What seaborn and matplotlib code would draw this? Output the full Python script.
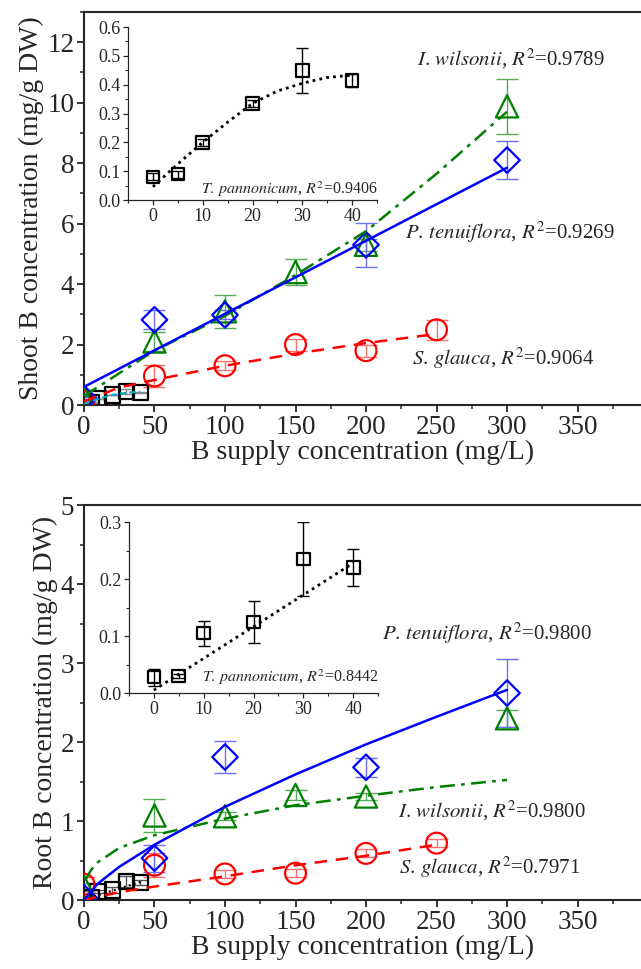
import numpy as np
import pandas as pd
import seaborn as sns
import matplotlib
matplotlib.use("Agg")
import matplotlib.pyplot as plt
from matplotlib.ticker import MultipleLocator, FormatStrFormatter

# ---- data ----
# shoot B (mg/g DW)
sg_x = [0, 50, 100, 150, 200, 250]
sg_shoot = [0.12, 0.96, 1.30, 2.00, 1.80, 2.49]
sg_shoot_err = [0.05, 0.36, 0.15, 0.20, 0.20, 0.33]
pt_x = [0, 50, 100, 200, 300]
pt_shoot = [0.22, 2.82, 2.98, 5.30, 8.10]
pt_shoot_err = [0.05, 0.32, 0.15, 0.72, 0.63]
iw_x = [0, 50, 100, 150, 200, 300]
iw_shoot = [0.25, 2.10, 3.10, 4.40, 5.30, 9.88]
iw_shoot_err = [0.05, 0.30, 0.55, 0.42, 0.20, 0.90]
tp_x = [0, 5, 10, 20, 30, 40]
tp_shoot = [0.08, 0.09, 0.20, 0.335, 0.45, 0.415]
tp_shoot_err = [0.012, 0.012, 0.012, 0.012, 0.078, 0.022]

# fitted curves, shoot
sg_shoot_fit_x = [0, 25, 50, 100, 150, 200, 250]
sg_shoot_fit = [0.12, 0.58, 0.83, 1.30, 1.70, 2.05, 2.35]
pt_shoot_fit_x = [0, 300]
pt_shoot_fit = [0.60, 7.85]
iw_shoot_fit_x = [0, 50, 100, 150, 200, 250, 300]
iw_shoot_fit = [0.30, 1.80, 2.95, 4.30, 5.75, 7.65, 9.70]
tp_shoot_fit_x = [0, 5, 10, 15, 20, 25, 30, 35, 40]
tp_shoot_fit = [0.046, 0.125, 0.200, 0.270, 0.335, 0.378, 0.405, 0.425, 0.433]

# root B (mg/g DW)
sg_root = [0.20, 0.44, 0.33, 0.34, 0.59, 0.72]
sg_root_err = [0.09, 0.15, 0.05, 0.05, 0.05, 0.05]
pt_root = [0.03, 0.53, 1.81, 1.68, 2.62]
pt_root_err = [0.02, 0.17, 0.20, 0.12, 0.43]
iw_root = [0.17, 1.07, 1.06, 1.33, 1.31, 2.30]
iw_root_err = [0.05, 0.21, 0.05, 0.06, 0.05, 0.11]
tp_root = [0.028, 0.030, 0.105, 0.125, 0.235, 0.220]
tp_root_err = [0.015, 0.004, 0.022, 0.037, 0.065, 0.033]

# fitted curves, root
sg_root_fit_x = [0, 25, 50, 100, 150, 200, 250]
sg_root_fit = [0.0, 0.10, 0.17, 0.30, 0.44, 0.56, 0.70]
pt_root_fit_x = [0, 10, 25, 50, 100, 150, 200, 250, 300]
pt_root_fit = [0.0, 0.21, 0.42, 0.70, 1.18, 1.59, 1.97, 2.32, 2.66]
iw_root_fit_x = [1, 5, 10, 25, 50, 100, 150, 200, 250, 300]
iw_root_fit = [0.25, 0.38, 0.48, 0.66, 0.82, 1.03, 1.20, 1.32, 1.43, 1.52]
tp_root_fit_x = [0, 40]
tp_root_fit = [0.005, 0.228]

shoot_labels = [r"$\mathit{I.\,wilsonii}$, $\mathit{R}^{2}$=0.9789",
                r"$\mathit{P.\,tenuiflora}$, $\mathit{R}^{2}$=0.9269",
                r"$\mathit{S.\,glauca}$, $\mathit{R}^{2}$=0.9064",
                r"$\mathit{T.\,pannonicum}$, $\mathit{R}^{2}$=0.9406"]
root_labels = [r"$\mathit{P.\,tenuiflora}$, $\mathit{R}^{2}$=0.9800",
               r"$\mathit{I.\,wilsonii}$, $\mathit{R}^{2}$=0.9800",
               r"$\mathit{S.\,glauca}$, $\mathit{R}^{2}$=0.7971",
               r"$\mathit{T.\,pannonicum}$, $\mathit{R}^{2}$=0.8442"]

sns.set_style("ticks")
plt.rcParams["font.family"] = ["Liberation Serif", "DejaVu Serif"]
plt.rcParams["mathtext.fontset"] = "stix"

BLUE, GREEN, RED = "#0000ff", "#007f00", "#ff0000"
BLUE_E, GREEN_E, RED_E = "#6f6fff", "#55aa55", "#ff6f6f"


def series(ax, x, y, err, color, ecolor, marker, ms, lw_err=1.0, cap=8):
    ax.errorbar(x, y, yerr=err, fmt="none", ecolor=ecolor, elinewidth=lw_err,
                capsize=cap, capthick=lw_err, zorder=2)
    sns.scatterplot(x=x, y=y, ax=ax, marker=marker, s=ms ** 2, facecolors="none",
                    edgecolor=color, linewidth=1.6, zorder=3, legend=False)


def fit(ax, x, y, color, ls, lw=1.8):
    df = pd.DataFrame({"x": x, "y": y})
    sns.lineplot(data=df, x="x", y="y", ax=ax, color=color, linestyle=ls, lw=lw,
                 zorder=4, sort=False)


def style_main(ax, ymax, ymajor, yminor, ylabel):
    ax.set_xlim(0, 395)
    ax.set_ylim(0, ymax)
    ax.xaxis.set_major_locator(MultipleLocator(50))
    ax.xaxis.set_minor_locator(MultipleLocator(25))
    ax.yaxis.set_major_locator(MultipleLocator(ymajor))
    ax.yaxis.set_minor_locator(MultipleLocator(yminor))
    ax.tick_params(which="major", direction="out", length=5, width=1.3, labelsize=19.5,
                   top=False, right=False, pad=2)
    ax.tick_params(which="minor", direction="out", length=3, width=1.1, top=False, right=False)
    for s in ["left", "bottom", "top"]:
        ax.spines[s].set_linewidth(1.5)
    ax.spines["right"].set_visible(False)
    ax.set_xlabel("B supply concentration (mg/L)", fontsize=20, labelpad=0)
    ax.set_ylabel(ylabel, fontsize=20, labelpad=2)


def style_inset(ax, ymax):
    ax.set_xlim(-5, 45)
    ax.set_ylim(0, ymax)
    ax.xaxis.set_major_locator(MultipleLocator(10))
    ax.xaxis.set_minor_locator(MultipleLocator(5))
    ax.yaxis.set_major_locator(MultipleLocator(0.1))
    ax.yaxis.set_minor_locator(MultipleLocator(0.05))
    ax.yaxis.set_major_formatter(FormatStrFormatter("%.1f"))
    ax.tick_params(which="major", direction="out", length=3.5, width=0.9, labelsize=13, pad=2)
    ax.tick_params(which="minor", direction="out", length=2, width=0.8)
    sns.despine(ax=ax)
    for s in ["left", "bottom"]:
        ax.spines[s].set_linewidth(0.9)
    ax.set_xlabel("")
    ax.set_ylabel("")
    ax.patch.set_alpha(0)


fig = plt.figure(figsize=(6.41, 9.69), dpi=100)

# ---- shoot panel ----
ax1 = fig.add_axes([0.131, 0.582, 0.869, 0.4056])
fit(ax1, tp_shoot_fit_x, tp_shoot_fit, "#00b0d0", (0, (3, 1.5)), lw=1.5)
series(ax1, tp_x, tp_shoot, tp_shoot_err, "black", "#888888", "s", 11, cap=6)
series(ax1, sg_x, sg_shoot, sg_shoot_err, RED, RED_E, "o", 15)
series(ax1, iw_x, iw_shoot, iw_shoot_err, GREEN, GREEN_E, "^", 16)
series(ax1, pt_x, pt_shoot, pt_shoot_err, BLUE, BLUE_E, "D", 13)
fit(ax1, sg_shoot_fit_x, sg_shoot_fit, RED, (0, (5, 3.5)))
fit(ax1, iw_shoot_fit_x, iw_shoot_fit, GREEN, (0, (6, 2.5, 1.5, 2.5)))
fit(ax1, pt_shoot_fit_x, pt_shoot_fit, BLUE, "-")
style_main(ax1, 13, 2, 1, "Shoot B concentration (mg/g DW)")
ax1.text(303, 11.44, shoot_labels[0], fontsize=15, ha="center", va="center")
ax1.text(302, 5.70, shoot_labels[1], fontsize=15, ha="center", va="center")
ax1.text(297, 1.56, shoot_labels[2], fontsize=15, ha="center", va="center")

in1 = fig.add_axes([0.1997, 0.7936, 0.3885, 0.1785])
series(in1, tp_x, tp_shoot, tp_shoot_err, "black", "black", "s", 9, lw_err=1.0, cap=4)
fit(in1, tp_shoot_fit_x, tp_shoot_fit, "black", (0, (1, 1.5)), lw=2.0)
style_inset(in1, 0.6)
in1.text(1.0, 0.06, shoot_labels[3], transform=in1.transAxes, fontsize=11.5,
         ha="right", va="center")

# ---- root panel ----
ax2 = fig.add_axes([0.131, 0.0712, 0.869, 0.4076])
fit(ax2, tp_root_fit_x, tp_root_fit, "black", (0, (1, 1.5)), lw=1.5)
series(ax2, tp_x, tp_root, tp_root_err, "black", "#555555", "s", 11, cap=6)
series(ax2, sg_x, sg_root, sg_root_err, RED, RED_E, "o", 15)
series(ax2, iw_x, iw_root, iw_root_err, GREEN, GREEN_E, "^", 16)
series(ax2, pt_x, pt_root, pt_root_err, BLUE, BLUE_E, "D", 13)
fit(ax2, sg_root_fit_x, sg_root_fit, RED, (0, (5, 3.5)))
fit(ax2, iw_root_fit_x, iw_root_fit, GREEN, (0, (6, 2.5, 1.5, 2.5)))
fit(ax2, pt_root_fit_x, pt_root_fit, BLUE, "-")
style_main(ax2, 5, 1, 0.5, "Root B concentration (mg/g DW)")
ax2.text(286, 3.38, root_labels[0], fontsize=15, ha="center", va="center")
ax2.text(289, 1.13, root_labels[1], fontsize=15, ha="center", va="center")
ax2.text(288, 0.42, root_labels[2], fontsize=15, ha="center", va="center")

in2 = fig.add_axes([0.201, 0.2848, 0.389, 0.1765])
series(in2, tp_x, tp_root, tp_root_err, "black", "black", "s", 9, lw_err=1.0, cap=4)
fit(in2, tp_root_fit_x, tp_root_fit, "black", (0, (1, 1.5)), lw=2.0)
style_inset(in2, 0.3)
in2.text(1.0, 0.094, root_labels[3], transform=in2.transAxes, fontsize=11.5,
         ha="right", va="center")

fig.savefig("out.png", dpi=100)
